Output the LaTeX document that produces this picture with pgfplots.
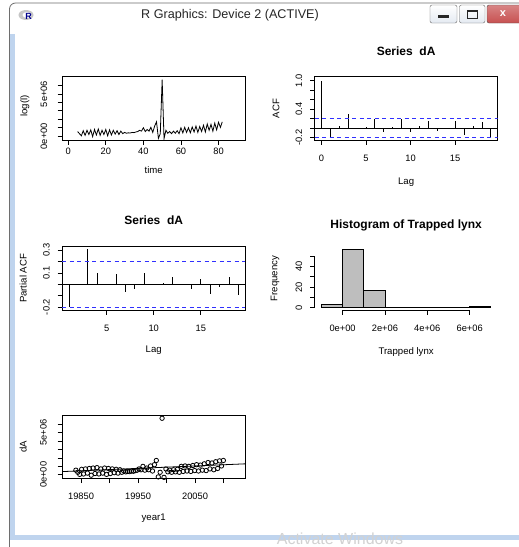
\documentclass[border=0pt]{standalone}
\usepackage{fontspec}
\setmainfont{Liberation Sans}
\usepackage{pgfplots}
\usepackage{pgfplotstable}
\pgfplotsset{compat=1.18}

\definecolor{rgray}{HTML}{BEBEBE}
\definecolor{rblue}{HTML}{3030FF}
\definecolor{winblue}{HTML}{BFD4EE}
\definecolor{winedge}{HTML}{6E6E6E}
\definecolor{btnfill}{HTML}{E4EAF2}
\definecolor{closered}{HTML}{C75050}

\newcommand\tl{\fontsize{9.3}{11}\selectfont}
\newcommand\al{\fontsize{9.6}{11}\selectfont}
\newcommand\ttl{\bfseries\fontsize{12}{14}\selectfont}

% t, year1, dA
\pgfplotstableread{
t year val
5 19841.0 550000
6 19844.4 300000
7 19847.7 50000
8 19851.1 650000
9 19854.4 100000
10 19857.8 700000
11 19861.2 200000
12 19864.5 750000
13 19867.9 -50000
14 19871.2 800000
15 19874.6 150000
16 19878.0 850000
17 19881.3 100000
18 19884.7 700000
19 19888.0 200000
20 19891.4 800000
21 19894.8 50000
22 19898.1 750000
23 19901.5 150000
24 19904.8 700000
25 19908.2 250000
26 19911.6 650000
27 19914.9 200000
28 19918.3 600000
29 19921.6 300000
30 19925.0 450000
31 19928.4 350000
32 19931.7 400000
33 19935.1 380000
34 19938.4 450000
35 19941.8 420000
36 19945.2 500000
37 19948.5 550000
38 19951.9 700000
39 19955.2 600000
40 19958.6 1000000
41 19962.0 550000
42 19965.3 800000
43 19968.7 600000
44 19972.0 1050000
45 19975.4 450000
46 19978.8 1200000
47 19982.1 1700000
48 19985.5 -250000
49 19988.8 300000
50 19992.2 6700000
51 19995.6 -300000
52 19998.9 700000
53 20002.3 350000
54 20005.6 550000
55 20009.0 300000
56 20012.4 600000
57 20015.7 350000
58 20019.1 650000
59 20022.4 300000
60 20025.8 1000000
61 20029.2 400000
62 20032.5 1050000
63 20035.9 450000
64 20039.2 1000000
65 20042.6 400000
66 20046.0 1100000
67 20049.3 500000
68 20052.7 1200000
69 20056.0 450000
70 20059.4 1150000
71 20062.8 550000
72 20066.1 1300000
73 20069.5 500000
74 20072.8 1450000
75 20076.2 700000
76 20079.6 1400000
77 20082.9 600000
78 20086.3 1550000
79 20089.6 750000
80 20093.0 1650000
81 20096.4 1050000
82 20099.7 1700000
}\dAtable

\pgfplotstableread{
lag acf
0 1.00
1 -0.19
2 0.05
3 0.30
4 -0.03
5 0.03
6 0.19
7 -0.08
8 0.03
9 0.19
10 -0.08
11 0.05
12 0.15
13 -0.06
14 0.005
15 0.15
16 -0.14
17 0.05
18 0.12
19 -0.19
}\acftable

\pgfplotstableread{
lag pacf
1 -0.197
2 -0.01
3 0.31
4 0.10
5 -0.01
6 0.087
7 -0.066
8 -0.04
9 0.10
10 -0.01
11 0.015
12 0.066
13 0.003
14 -0.04
15 0.048
16 -0.084
17 -0.02
18 0.066
19 -0.09
}\pacftable

\pgfplotstableread{
x n
-1000000 3
0 57
1000000 17
2000000 0
3000000 0
4000000 0
5000000 0
6000000 1
7000000 0
}\histtable

\pgfplotsset{
  rbase/.style={
    scale only axis, width=183pt, height=63.3pt, anchor=north west,
    axis line style={line width=0.8pt, black},
    tick style={line width=0.8pt, black},
    tick align=outside, major tick length=4.5pt,
    xtick pos=bottom, ytick pos=left,
    ticklabel style={font=\tl, inner sep=0pt},
    xticklabel style={anchor=center},
    yticklabel style={rotate=90, anchor=center},
    /pgf/number format/assume math mode=true,
    scaled ticks=false, minor tick num=0,
    xticklabel shift=14pt, yticklabel shift=11.2pt,
  },
  ci/.style={draw=rblue, line width=1.1pt, dash pattern=on 4pt off 3.5pt},
}

\begin{document}
\begin{tikzpicture}
\path[use as bounding box] (0pt,0pt) rectangle (519pt,-547pt);
\fill[white] (0pt,0pt) rectangle (519pt,-547pt);

% ---- window frame ----
\fill[winblue] (10pt,-34pt) rectangle (15pt,-540pt);
\fill[winblue] (10pt,-535pt) rectangle (519pt,-540pt);
\draw[winedge, line width=0.8pt] (9.5pt,-547pt) -- (9.5pt,-9pt) arc (180:90:6pt) -- (519pt,-3pt);
% R icon
\fill[gray!45] (26pt,-15pt) ellipse (7.5pt and 5pt);
\fill[white] (27pt,-15pt) ellipse (4.5pt and 3pt);
\node[font=\bfseries\fontsize{9}{9}\selectfont, text=blue!55!black] at (28.5pt,-16.5pt) {R};
\node[font=\fontsize{12.6}{14}\selectfont, text=black!85] at (230pt,-15pt) {R Graphics: Device 2 (ACTIVE)};
% buttons
\draw[rounded corners=2pt, draw=gray!80!black, top color=white, bottom color=btnfill] (430pt,-5pt) rectangle (457pt,-23pt);
\draw[rounded corners=2pt, draw=gray!80!black, top color=white, bottom color=btnfill] (459.5pt,-5pt) rectangle (485pt,-23pt);
\draw[rounded corners=2pt, draw=gray!60!black, top color=closered!70, bottom color=closered] (487pt,-5pt) rectangle (522pt,-23pt);
\fill[gray!30!black] (438pt,-15pt) rectangle (449pt,-17.5pt);
\draw[gray!30!black, line width=1pt] (467pt,-10pt) rectangle (477pt,-18pt);
\draw[gray!30!black, line width=1.5pt] (467pt,-11pt) -- (477pt,-11pt);
\node[font=\bfseries\fontsize{11}{11}\selectfont, text=white] at (503pt,-14pt) {x};

% ---- panel 1: time series ----
\begin{axis}[rbase, at={(62.2pt,-76.7pt)},
  xmin=-3.2, xmax=94.2, ymin=-450000, ymax=7050000,
  xtick={0,20,40,60,80}, xticklabels={0,20,40,60,80},
  ytick={0,1000000,2000000,3000000,4000000,5000000,6000000},
  yticklabels={{0e+00},{},{},{},{},{5e+06},{}},
  xticklabel shift=6.5pt, yticklabel shift=13.9pt]
\addplot[black, line width=0.8pt] table[x=t, y=val] {\dAtable};
\end{axis}
\node[font=\al] at (153.7pt,-170pt) {time};
\node[font=\al, rotate=90] at (25pt,-106pt) {log(l)};

% ---- panel 2: ACF ----
\begin{axis}[rbase, at={(314.6pt,-76.7pt)},
  xmin=-0.76, xmax=19.76, ymin=-0.253, ymax=1.082,
  xtick={0,5,10,15}, xticklabels={0,5,10,15},
  ytick={-0.2,0,0.2,0.4,0.6,0.8,1.0},
  yticklabels={{-0.2},{},{},{0.4},{},{},{1.0}}]
\addplot[ycomb, black, line width=0.8pt] table[x=lag, y=acf] {\acftable};
\addplot[black, line width=0.8pt] coordinates {(-0.76,0) (19.76,0)};
\addplot[ci] coordinates {(-0.76,0.205) (19.76,0.205)};
\addplot[ci] coordinates {(-0.76,-0.205) (19.76,-0.205)};
\end{axis}
\node[font=\ttl] at (406.1pt,-51.7pt) {Series~~dA};
\node[font=\al] at (406.1pt,-181.7pt) {Lag};
\node[font=\al, rotate=90] at (276pt,-108.4pt) {ACF};

% ---- panel 3: PACF ----
\begin{axis}[rbase, at={(62.2pt,-246.7pt)},
  xmin=0.28, xmax=19.72, ymin=-0.226, ymax=0.331,
  xtick={5,10,15}, xticklabels={5,10,15},
  ytick={-0.2,-0.1,0,0.1,0.2,0.3},
  yticklabels={{-0.2},{},{},{0.1},{},{0.3}}]
\addplot[ycomb, black, line width=0.8pt] table[x=lag, y=pacf] {\pacftable};
\addplot[black, line width=0.8pt] coordinates {(0.28,0) (19.72,0)};
\addplot[ci] coordinates {(0.28,0.2) (19.72,0.2)};
\addplot[ci] coordinates {(0.28,-0.2) (19.72,-0.2)};
\end{axis}
\node[font=\ttl] at (153.7pt,-220pt) {Series~~dA};
\node[font=\al] at (153.7pt,-350pt) {Lag};
\node[font=\al, rotate=90] at (23.3pt,-278.4pt) {Partial ACF};

% ---- panel 4: histogram ----
\begin{axis}[rbase, at={(314.6pt,-246.7pt)}, clip=false,
  axis line style={draw=none},
  xmin=-1320000, xmax=7320000, ymin=-2.28, ymax=59.28,
  xtick={0,2000000,4000000,6000000},
  xticklabels={{0e+00},{2e+06},{4e+06},{6e+06}},
  ytick={0,10,20,30,40,50},
  yticklabels={{0},{},{20},{},{40},{}}]
\addplot[ybar interval, fill=rgray, draw=black, line width=0.8pt] table[x=x, y=n] {\histtable};
\draw[black, line width=0.8pt] (axis cs:0,-2.28) -- (axis cs:6000000,-2.28);
\draw[black, line width=0.8pt] (axis cs:-1320000,0) -- (axis cs:-1320000,50);
\end{axis}
\node[font=\ttl] at (406.1pt,-225pt) {Histogram of Trapped lynx};
\node[font=\al] at (406.1pt,-351.7pt) {Trapped lynx};
\node[font=\al, rotate=90] at (275pt,-278.4pt) {Frequency};

% ---- panel 5: scatter ----
\begin{axis}[rbase, at={(62.2pt,-415.3pt)},
  xmin=19817, xmax=20138, ymin=-450000, ymax=7050000,
  xtick={19850,19900,19950,20000,20050,20100},
  xticklabels={{19850},{},{19950},{},{20050},{}},
  ytick={0,1000000,2000000,3000000,4000000,5000000,6000000},
  yticklabels={{0e+00},{},{},{},{},{5e+06},{}},
  xticklabel shift=13.5pt, yticklabel shift=14.4pt]
\addplot[only marks, mark=o, mark size=2.2pt, black, mark options={line width=0.8pt}] table[x=year, y=val] {\dAtable};
\addplot[black, line width=0.8pt] coordinates {(19817,380000) (20138,1300000)};
\end{axis}
\node[font=\al] at (153.7pt,-518.3pt) {year1};
\node[font=\al, rotate=90] at (23.3pt,-447pt) {dA};

% watermark
\node[font=\fontsize{16}{17}\selectfont, text=gray!35, anchor=base] at (340pt,-544pt) {Activate Windows};
\end{tikzpicture}
\end{document}
